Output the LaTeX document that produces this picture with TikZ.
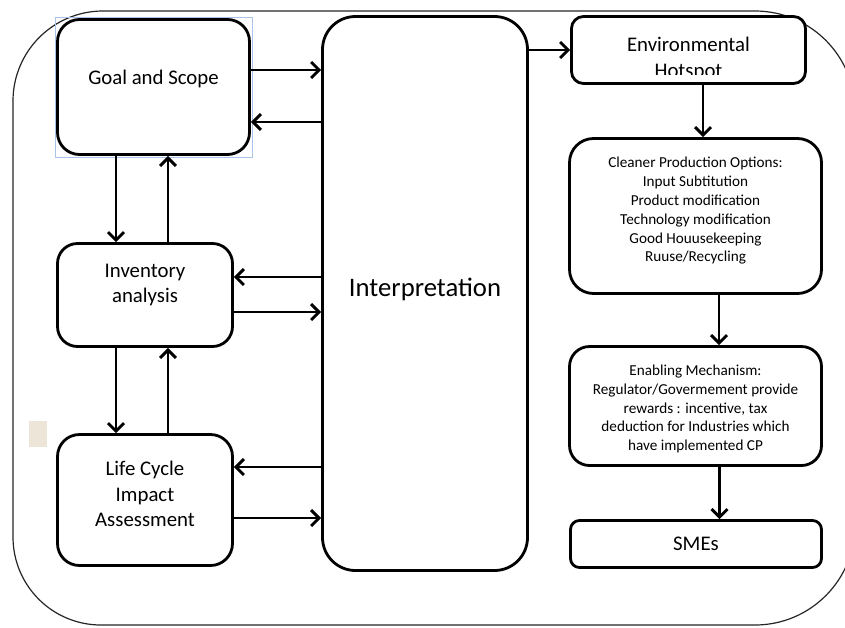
\documentclass[tikz,border=0pt]{standalone}
\usepackage{fontspec}
\setmainfont{Carlito}
\usetikzlibrary{arrows.meta}
\definecolor{selblue}{HTML}{A9C4E8}
\definecolor{beigesq}{HTML}{EDE5D8}
\begin{document}
\begin{tikzpicture}[x=1pt,y=-1pt,
 box/.style={draw=black, line width=2.8pt, fill=white, rounded corners=#1, inner sep=0pt},
 box/.default=20pt,
 arr/.style={line width=2.9pt, -{Straight Barb[length=8pt,width=16pt]}},
 big/.style={font=\fontsize{20.8}{24.5}\selectfont, align=center, inner sep=0pt},
 small/.style={font=\fontsize{15.2}{18.8}\selectfont, align=center, inner sep=0pt},
 outerframe/.style={line width=1.2pt, draw=black!85}]
\useasboundingbox (0,0) rectangle (845,627);
\fill[white] (0,0) rectangle (845,627);
% outer frame
\draw[outerframe] (13,537) -- (13,101) arc[start angle=180,end angle=90,radius=90pt]
  -- (755,11) arc[start angle=90,end angle=0,radius=100pt]
  -- (855,525) arc[start angle=0,end angle=-90,radius=100pt]
  -- (101,625) arc[start angle=-90,end angle=-180,radius=88pt] -- cycle;
\fill[beigesq] (29,421) rectangle (47,447);
\draw[selblue, line width=0.6pt] (55,17) rectangle (252,157);
% boxes
\node[box=22pt, minimum width=192pt, minimum height=135pt] (goal) at (153.5,87) {};
\node[box=33pt, minimum width=205pt, minimum height=554pt] (interp) at (425,293.5) {};
\node[box=20pt, minimum width=175pt, minimum height=103pt] (inv) at (145,295) {};
\node[box=22pt, minimum width=175pt, minimum height=131pt] (lcia) at (145,500) {};
\node[box=12pt, minimum width=234pt, minimum height=67pt] (env) at (688.5,50) {};
\node[box=24pt, minimum width=252pt, minimum height=155pt] (clean) at (695.5,216) {};
\node[box=20pt, minimum width=252pt, minimum height=119pt] (enab) at (695.5,406) {};
\node[box=9pt, minimum width=251pt, minimum height=47pt] (smes) at (696,544) {};
% texts
\node[big] (goalt) at ([yshift=8pt]goal.center) {Goal and Scope};
\node[big] (invt) at ([yshift=10pt]inv.center) {Inventory\\analysis};
\node[big, font=\fontsize{20.8}{25.5}\selectfont] (lciat) at ([yshift=6pt]lcia.center) {Life Cycle\\Impact\\Assessment};
\node[font=\fontsize{26.7}{30}\selectfont, inner sep=0pt] (interpt) at ([yshift=4pt]interp.center) {Interpretation};
\begin{scope}
\clip (570,15) rectangle (807,74);
\node[big, font=\fontsize{20.8}{26}\selectfont] (envt) at ([yshift=-9pt]env.center) {Environmental\\Hotspot};
\end{scope}
\node[small] (cleant) at ([yshift=5pt]clean.center) {Cleaner Production Options:\\Input Subtitution\\Product modification\\Technology modification\\Good Houusekeeping\\Ruuse/Recycling};
\node[small] (enabt) at ([yshift=-3pt]enab.center) {Enabling Mechanism:\\Regulator/Govermement provide\\rewards : incentive, tax\\deduction for Industries which\\have implemented CP};
\node[big] (smest) at (smes.center) {SMEs};
% connectors
\draw[arr] ([yshift=17pt]goal.east) -- ([yshift=17pt]goal.east -| interp.west);
\draw[arr] ([yshift=-35pt]goal.east -| interp.west) -- ([yshift=-35pt]goal.east);
\draw[arr] ([xshift=-29pt]inv.north |- goal.south) -- ([xshift=-29pt]inv.north);
\draw[arr] ([xshift=23pt]inv.north) -- ([xshift=23pt]inv.north |- goal.south);
\draw[arr] ([yshift=18pt]inv.east -| interp.west) -- ([yshift=18pt]inv.east);
\draw[arr] ([yshift=-17pt]inv.east) -- ([yshift=-17pt]inv.east -| interp.west);
\draw[arr] ([xshift=-29pt]lcia.north |- inv.south) -- ([xshift=-29pt]lcia.north);
\draw[arr] ([xshift=23pt]lcia.north) -- ([xshift=23pt]lcia.north |- inv.south);
\draw[arr] ([yshift=33pt]lcia.east -| interp.west) -- ([yshift=33pt]lcia.east);
\draw[arr] ([yshift=-18pt]lcia.east) -- ([yshift=-18pt]lcia.east -| interp.west);
\draw[arr] (env.west -| interp.east) -- (env.west);
\draw[arr] ([xshift=14.5pt]env.south) -- ([xshift=14.5pt]env.south |- clean.north);
\draw[arr] ([xshift=23.5pt]clean.south) -- ([xshift=23.5pt]clean.south |- enab.north);
\draw[arr] ([xshift=24pt]enab.south) -- ([xshift=24pt]enab.south |- smes.north);
\end{tikzpicture}
\end{document}
